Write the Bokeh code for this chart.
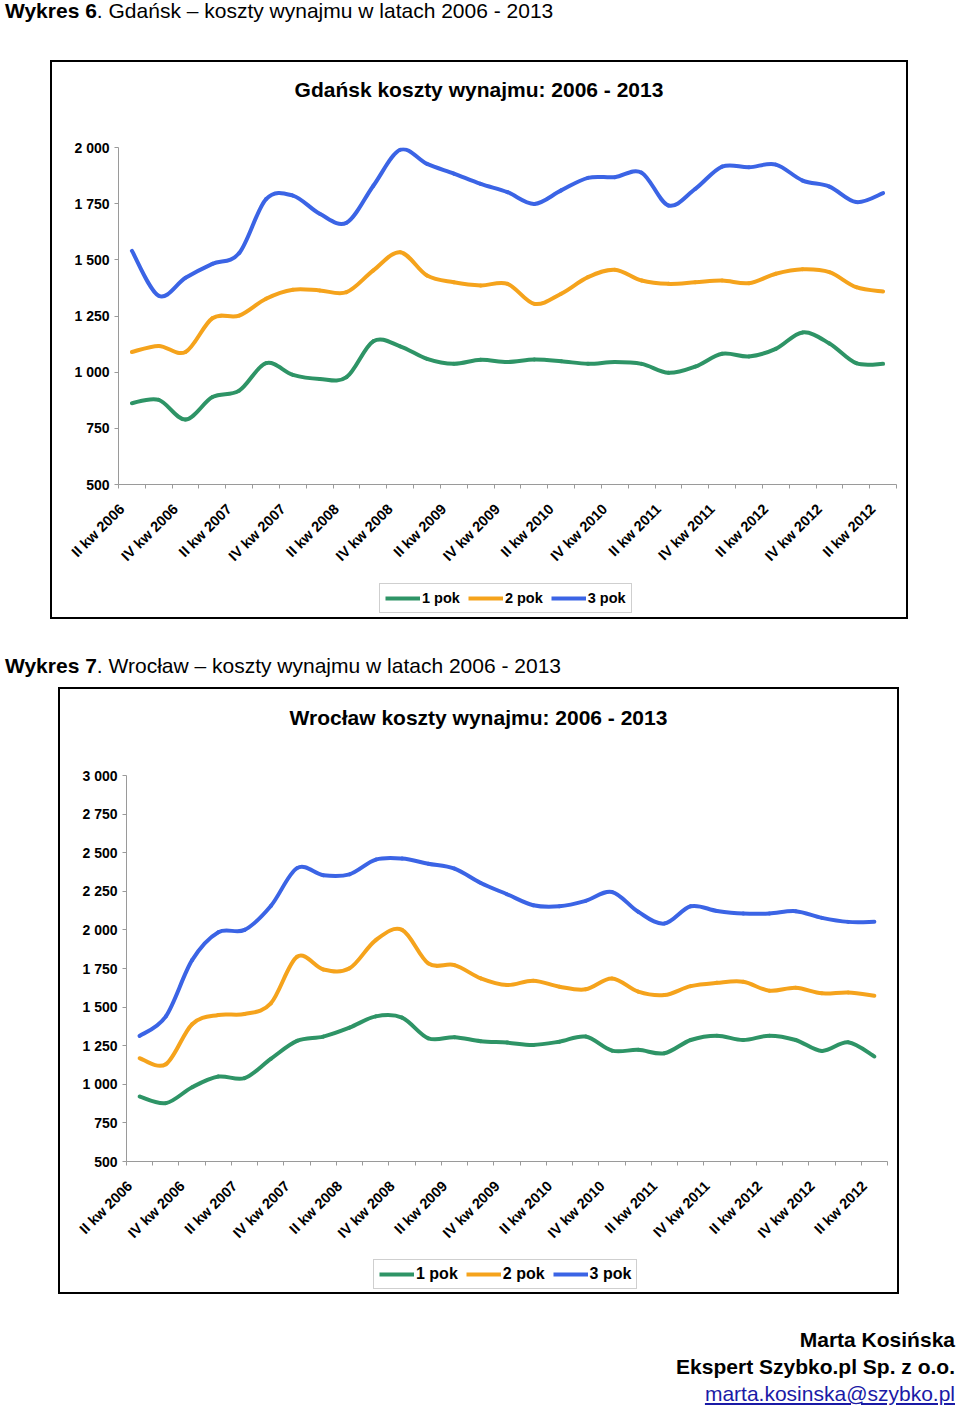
import math
from bokeh.plotting import figure
from bokeh.models import Range1d, FixedTicker, Legend, LegendItem, Div
from bokeh.layouts import column
from bokeh.embed import file_html
from bokeh.resources import INLINE

# ---------------- data ----------------
quarters = ["II kw 2006", "III kw 2006", "IV kw 2006",
            "I kw 2007", "II kw 2007", "III kw 2007", "IV kw 2007",
            "I kw 2008", "II kw 2008", "III kw 2008", "IV kw 2008",
            "I kw 2009", "II kw 2009", "III kw 2009", "IV kw 2009",
            "I kw 2010", "II kw 2010", "III kw 2010", "IV kw 2010",
            "I kw 2011", "II kw 2011", "III kw 2011", "IV kw 2011",
            "I kw 2012", "II kw 2012", "III kw 2012", "IV kw 2012",
            "I kw 2013", "II kw 2013"]

tick_labels = ["II kw 2006", "IV kw 2006", "II kw 2007", "IV kw 2007", "II kw 2008",
               "IV kw 2008", "II kw 2009", "IV kw 2009", "II kw 2010", "IV kw 2010",
               "II kw 2011", "IV kw 2011", "II kw 2012", "IV kw 2012", "II kw 2012"]

series_names = ["1 pok", "2 pok", "3 pok"]

gd_1pok = [862, 877, 789, 889, 918, 1040, 988, 970, 978, 1138, 1115, 1059, 1037, 1055, 1045,
           1056, 1049, 1037, 1045, 1037, 997, 1025, 1082, 1070, 1104, 1177, 1128, 1040, 1037]
gd_2pok = [1090, 1117, 1090, 1240, 1252, 1327, 1367, 1364, 1356, 1453, 1534, 1430, 1400, 1386, 1393,
           1304, 1349, 1423, 1456, 1408, 1393, 1400, 1408, 1396, 1438, 1458, 1445, 1378, 1359]
gd_3pok = [1540, 1340, 1420, 1482, 1530, 1770, 1786, 1705, 1665, 1830, 1990, 1927, 1884, 1838, 1801,
           1749, 1809, 1865, 1868, 1888, 1742, 1816, 1915, 1912, 1924, 1853, 1826, 1757, 1797]

wr_1pok = [921, 878, 981, 1050, 1040, 1165, 1281, 1309, 1367, 1440, 1432, 1298, 1305, 1279, 1270,
           1255, 1276, 1309, 1218, 1223, 1201, 1287, 1315, 1287, 1315, 1287, 1216, 1272, 1180]
wr_2pok = [1169, 1130, 1389, 1449, 1455, 1524, 1826, 1744, 1751, 1934, 2000, 1783, 1772, 1686, 1643,
           1671, 1632, 1615, 1685, 1600, 1578, 1636, 1657, 1664, 1606, 1625, 1589, 1595, 1573]
wr_3pok = [1313, 1440, 1804, 1985, 2000, 2155, 2400, 2354, 2360, 2455, 2462, 2429, 2397, 2304, 2231,
           2160, 2153, 2188, 2246, 2117, 2041, 2153, 2123, 2106, 2106, 2121, 2078, 2052, 2052]

gd_yticks = [500, 750, 1000, 1250, 1500, 1750, 2000]
wr_yticks = [500, 750, 1000, 1250, 1500, 1750, 2000, 2250, 2500, 2750, 3000]

# ---------------- style ----------------
FONT = "Liberation Sans"
COLORS = ["#2E9466", "#F5A31C", "#3B64E5"]
AXIS_GREY = "#9a9a9a"
TXT = f"font-family:'{FONT}'; font-size:21px; line-height:24px; color:#000; white-space:nowrap;"
Q = 8          # axis units per quarter
LABEL_SHIFT = 3  # rotated labels end slightly left of the category centre


def bezier_segments(xs, ys):
    """Control points of a smoothed (Excel-like) line through the data points."""
    n = len(xs)
    d = dict(x0=[], y0=[], x1=[], y1=[], cx0=[], cy0=[], cx1=[], cy1=[])
    for i in range(n - 1):
        xp, yp = (xs[i - 1], ys[i - 1]) if i > 0 else (xs[i], ys[i])
        xn, yn = (xs[i + 2], ys[i + 2]) if i + 2 < n else (xs[i + 1], ys[i + 1])
        d["x0"].append(xs[i]); d["y0"].append(ys[i])
        d["x1"].append(xs[i + 1]); d["y1"].append(ys[i + 1])
        d["cx0"].append(xs[i] + (xs[i + 1] - xp) / 6.0)
        d["cy0"].append(ys[i] + (ys[i + 1] - yp) / 6.0)
        d["cx1"].append(xs[i + 1] - (xn - xs[i]) / 6.0)
        d["cy1"].append(ys[i + 1] - (yn - ys[i]) / 6.0)
    return d


def heading_div(heading_html, text_top, height, chart_title, title_top,
                box_left, box_width, box_height):
    """Section heading, plus the chart's frame box and title (drawn behind the transparent plots)."""
    html = (f'<div style="position:relative; width:950px; height:{height}px;">'
            f'<div style="position:absolute; top:{text_top}px; left:5px; {TXT}">{heading_html}</div>'
            f'<div style="position:absolute; top:{height}px; left:{box_left}px; width:{box_width}px;'
            f' height:{box_height}px; box-sizing:border-box; border:2px solid #000;"></div>'
            f'<div style="position:absolute; top:{height + title_top}px; left:{box_left}px;'
            f' width:{box_width}px; text-align:center; font-weight:bold; {TXT}">{chart_title}</div>'
            f'</div>')
    return Div(text=html, width=950, height=height, margin=0)


def make_chart(series, yticks, ymax, width, height, borders, margin_left):
    n = len(quarters)
    p = figure(width=width, height=height,
               x_range=Range1d(0, Q * n), y_range=Range1d(500, ymax),
               output_backend="svg", toolbar_location=None,
               min_border_left=borders[0], min_border_right=borders[1],
               min_border_top=borders[2], min_border_bottom=borders[3])
    p.margin = (0, 0, 0, margin_left)
    p.outline_line_color = None
    p.xgrid.visible = False
    p.ygrid.visible = False
    p.background_fill_alpha = 0
    p.border_fill_alpha = 0

    xs = [Q * i + Q // 2 for i in range(n)]
    for ys, col in zip(series, COLORS):
        seg = bezier_segments(xs, ys)
        p.bezier(source=seg, x0="x0", y0="y0", x1="x1", y1="y1",
                 cx0="cx0", cy0="cy0", cx1="cx1", cy1="cy1",
                 line_color=col, line_width=4, line_cap="round")

    # x axis: labels at every second quarter, tick marks between quarters
    xa = p.xaxis[0]
    major = [2 * Q * k + Q // 2 - LABEL_SHIFT for k in range(len(tick_labels))]
    xa.ticker = FixedTicker(ticks=major, minor_ticks=list(range(0, Q * n + 1, Q)))
    xa.major_label_overrides = {m: lab for m, lab in zip(major, tick_labels)}
    xa.major_tick_line_color = None
    xa.major_tick_out = 0
    xa.major_tick_in = 0
    xa.minor_tick_line_color = AXIS_GREY
    xa.minor_tick_out = 4
    xa.minor_tick_in = 0
    xa.axis_line_color = AXIS_GREY
    xa.major_label_orientation = math.pi / 4
    xa.major_label_standoff = 18
    xa.major_label_text_font = FONT
    xa.major_label_text_font_size = "14.5px"
    xa.major_label_text_font_style = "bold"
    xa.major_label_text_color = "#000000"

    # y axis
    ya = p.yaxis[0]
    ya.ticker = FixedTicker(ticks=yticks, minor_ticks=[])
    ya.major_label_overrides = {v: f"{v:,}".replace(",", " ") for v in yticks}
    ya.major_tick_out = 4
    ya.major_tick_in = 0
    ya.major_tick_line_color = AXIS_GREY
    ya.minor_tick_line_color = None
    ya.axis_line_color = AXIS_GREY
    ya.major_label_standoff = 5
    ya.major_label_text_font = FONT
    ya.major_label_text_font_size = "14px"
    ya.major_label_text_font_style = "bold"
    ya.major_label_text_color = "#000000"
    return p


def make_legend(width, height, margin_left, loc, font_size):
    lp = figure(width=width, height=height, x_range=Range1d(1, 2), y_range=Range1d(1, 2),
                x_axis_type=None, y_axis_type=None, output_backend="svg",
                toolbar_location=None, min_border=0)
    lp.margin = (0, 0, 0, margin_left)
    lp.outline_line_color = None
    lp.grid.visible = False
    lp.background_fill_alpha = 0
    lp.border_fill_alpha = 0
    items = []
    for name, col in zip(series_names, COLORS):
        r = lp.line(x=[0], y=[0], line_color=col, line_width=4)
        items.append(LegendItem(label=name, renderers=[r]))
    legend = Legend(items=items, orientation="horizontal", location=loc)
    legend.label_text_font = FONT
    legend.label_text_font_style = "bold"
    legend.label_text_font_size = font_size
    legend.label_text_color = "#000000"
    legend.glyph_width = 35
    legend.glyph_height = 18
    legend.label_height = 18
    legend.label_standoff = 2
    legend.spacing = 8
    legend.padding = 5
    legend.margin = 0
    legend.border_line_color = "#a0a0a0"
    legend.border_line_width = 1
    legend.background_fill_color = "white"
    lp.add_layout(legend)
    return lp


div1 = heading_div("<b>Wykres 6</b>. Gdańsk – koszty wynajmu w latach 2006 - 2013", -1, 60,
                   "Gdańsk koszty wynajmu: 2006 - 2013", 18, 50, 858, 559)
p1 = make_chart([gd_1pok, gd_2pok, gd_3pok], gd_yticks, 2000, 858, 520, (68, 12, 87, 96), 50)
l1 = make_legend(858, 39, 50, (261, 6), "14.5px")

div2 = heading_div("<b>Wykres 7</b>. Wrocław – koszty wynajmu w latach 2006 - 2013", 35, 68,
                   "Wrocław koszty wynajmu: 2006 - 2013", 19, 58, 841, 607)
p2 = make_chart([wr_1pok, wr_2pok, wr_3pok], wr_yticks, 3000, 841, 563, (68, 12, 88, 89), 58)
l2 = make_legend(841, 44, 58, (247, 5), "16px")

footer_html = (f'<div style="position:relative; top:32px; width:955px; text-align:right;'
               f' {TXT} line-height:27px;">'
               "<b>Marta Kosińska</b><br><b>Ekspert Szybko.pl Sp. z o.o.</b><br>"
               "<a href='mailto:marta.kosinska@szybko.pl' style='color:#1a1aa6; text-decoration:underline;'>"
               "marta.kosinska@szybko.pl</a></div>")
footer = Div(text=footer_html, width=955, height=110, margin=0)

layout = column(div1, p1, l1, div2, p2, l2, footer, spacing=0)

with open("out.html", "w") as f:
    f.write(file_html(layout, INLINE))
